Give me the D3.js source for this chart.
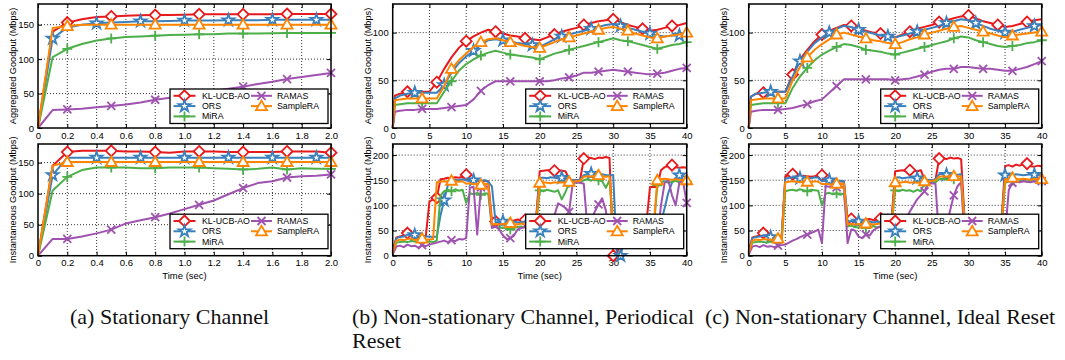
<!DOCTYPE html>
<html>
<head>
<meta charset="utf-8">
<script src="https://cdn.jsdelivr.net/npm/d3@7"></script>
<style>
  body { margin: 0; background: #fff; }
  svg { display: block; font-family: "Liberation Sans", Arial, sans-serif; }
</style>
</head>
<body>
<svg id="chart" width="1065" height="360"></svg>
<script>
// ---- series ----
const seriesNames = ["KL-UCB-AO", "ORS", "MiRA", "RAMAS", "SampleRA"];
const seriesColors = ["#e8191c", "#3a80bd", "#4daf4a", "#a052b0", "#ff8500"];
const seriesMarks = ["diamond", "star", "plus", "cross", "triangle"];

// ---- (a) stationary, time 0..2 s ----
const timeA = [0, 0.1, 0.2, 0.3, 0.4, 0.5, 0.6, 0.7, 0.8, 0.9, 1.0, 1.1, 1.2, 1.3, 1.4, 1.5, 1.6, 1.7, 1.8, 1.9, 2.0];
const aggA_kl   = [0, 140, 153, 158, 161, 162, 163, 163.5, 164, 164, 164.5, 165, 165, 165, 165, 165, 165, 165.5, 165.5, 165.5, 165.5];
const aggA_ors  = [0, 130, 146, 150, 152, 153, 154, 155, 155, 155.5, 156, 156, 156, 156.5, 156.5, 156.5, 157, 157, 157, 157, 157];
const aggA_mira = [0, 103, 115, 122, 127, 130, 132, 133, 134, 135, 135.5, 136, 136, 137, 137, 137, 137.5, 138, 138, 138, 138];
const aggA_ramas = [0, 26, 27, 28, 30, 32, 34, 37, 41, 44, 47, 51, 54, 57, 60, 64, 67, 71, 74, 77, 80];
const aggA_samp = [0, 145, 148, 150, 150, 150, 150, 150, 150, 150, 150, 150, 150, 150, 150, 150, 150, 150, 150, 150, 150];

const instA_kl   = [0, 145, 167, 169, 169, 169, 168, 168, 167, 166, 168, 168, 168, 167, 167, 167, 167, 168, 168, 168, 166];
const instA_ors  = [0, 130, 158, 158, 158, 158, 158, 158, 158, 158, 158, 158, 158, 158, 158, 158, 158, 158, 158, 158, 158];
const instA_mira = [0, 105, 127, 138, 142, 142, 142, 141, 141, 142, 142, 142, 141, 140, 139, 140, 142, 139, 141, 140, 140];
const instA_ramas = [0, 27, 27, 31, 36, 42, 52, 57, 62, 68, 75, 82, 89, 99, 109, 117, 120, 126, 128, 129, 131];
const instA_samp = [0, 145, 151, 151, 151, 151, 151, 151, 151, 151, 151, 151, 151, 151, 151, 151, 151, 151, 151, 151, 151];

// ---- (b),(c) aggregated, time 0..40 s ----
const timeAgg = [0, 0.3, 1, 2, 3, 4, 5, 6, 7, 8, 9, 10, 11, 12, 13, 14, 15, 16, 17, 18, 19, 20,
  21, 22, 23, 24, 25, 26, 27, 28, 29, 30, 31, 32, 33, 34, 35, 36, 37, 38, 39, 40];

const aggB_kl   = [0, 34, 36, 38, 38, 38, 38, 48, 62, 74, 84, 91, 96, 100, 103, 101, 99, 97, 96, 94, 93, 92,
  95, 98, 101, 103, 105, 108, 110, 112, 113, 114, 111, 108, 106, 104, 102, 103, 105, 107, 108, 110];
const aggB_ors  = [0, 31, 34, 36, 37, 37, 37, 37, 45, 58, 68, 75, 81, 87, 92, 93, 92, 91, 89, 88, 87, 85,
  89, 93, 96, 98, 100, 102, 104, 106, 108, 109, 107, 105, 103, 101, 99, 97, 96, 97, 97, 99];
const aggB_mira = [0, 24, 25, 26, 26, 26, 26, 26, 38, 49, 60, 67, 72, 76, 79, 81, 79, 77, 76, 75, 74, 72,
  75, 78, 80, 82, 84, 86, 88, 90, 92, 94, 92, 91, 89, 87, 85, 83, 85, 87, 88, 90];
const aggB_ramas = [0, 17, 18, 19, 19, 20, 20, 20, 21, 22, 23, 24, 30, 39, 45, 49, 49, 49, 49, 49, 49, 49,
  49, 50, 52, 53, 55, 58, 58, 59, 60, 61, 60, 59, 58, 57, 56, 57, 58, 60, 62, 63];
const aggB_samp = [0, 29, 30, 31, 31, 31, 31, 31, 44, 62, 71, 78, 85, 90, 93, 94, 92, 90, 88, 86, 85, 84,
  87, 90, 93, 95, 97, 99, 101, 103, 105, 106, 104, 102, 99, 97, 95, 94, 96, 97, 98, 100];

const aggC_kl   = [0, 33, 36, 37, 38, 38, 38, 56, 72, 82, 91, 98, 102, 105, 108, 107, 104, 102, 100, 99, 97, 95,
  98, 101, 104, 106, 108, 111, 113, 115, 117, 118, 115, 112, 110, 108, 106, 107, 109, 111, 113, 114];
const aggC_ors  = [0, 33, 36, 37, 38, 38, 38, 54, 70, 80, 89, 95, 100, 104, 107, 106, 103, 101, 99, 97, 96, 95,
  97, 99, 101, 103, 105, 107, 110, 112, 114, 113, 110, 107, 104, 102, 100, 101, 103, 105, 107, 108];
const aggC_mira = [0, 24, 25, 26, 26, 26, 26, 42, 54, 63, 71, 77, 81, 85, 88, 87, 85, 82, 81, 80, 78, 77,
  79, 81, 83, 85, 87, 89, 91, 94, 96, 95, 92, 90, 88, 86, 85, 86, 87, 89, 90, 92];
const aggC_ramas = [0, 17, 18, 19, 19, 19, 20, 21, 23, 25, 28, 30, 37, 44, 51, 51, 51, 51, 51, 51, 51, 50,
  51, 52, 54, 56, 59, 61, 62, 62, 64, 64, 63, 62, 62, 61, 60, 60, 62, 64, 67, 70];
const aggC_samp = [0, 29, 30, 31, 31, 31, 31, 50, 64, 74, 82, 88, 93, 98, 100, 98, 96, 94, 92, 91, 89, 88,
  90, 93, 95, 98, 100, 102, 104, 106, 107, 105, 103, 101, 99, 97, 95, 97, 98, 99, 100, 101];

// ---- (b),(c) instantaneous, sampled every 0.5 s ----
const timeInst = d3.range(0, 40.25, 0.5);

const instB_kl = [10, 36, 38, 40, 45, 42, 38, 37, 39, 38,
  108, 112, 115, 152, 153, 155, 154, 156, 155, 157,
  161, 150, 149, 150, 148, 149, 148, 70, 68, 69,
  70, 71, 69, 70, 72, 70, 71, 69, 70, 72,
  168, 169, 170, 170, 169, 170, 169, 168, 152, 150,
  150, 151, 193, 195, 194, 192, 195, 194, 196, 194,
  0, 0, 35, 62, 63, 61, 62, 63, 62, 61,
  136, 137, 136, 170, 176, 178, 180, 176, 175, 176, 175];
const instB_ors = [8, 35, 37, 38, 42, 40, 41, 38, 37, 38,
  38, 37, 38, 80, 110, 140, 150, 151, 150, 152,
  150, 148, 150, 149, 148, 150, 147, 138, 66, 67,
  68, 66, 67, 68, 66, 67, 68, 67, 66, 68,
  155, 155, 154, 156, 155, 154, 155, 153, 150, 150,
  150, 151, 160, 162, 163, 161, 160, 162, 160, 160,
  160, 0, 0, 30, 58, 60, 59, 60, 61, 60,
  60, 61, 62, 66, 95, 125, 145, 155, 160, 158, 157];
const instB_mira = [5, 26, 27, 28, 27, 29, 28, 27, 28, 27,
  28, 27, 30, 120, 128, 131, 128, 132, 129, 131,
  105, 124, 122, 125, 121, 124, 123, 58, 57, 55,
  56, 54, 52, 55, 57, 58, 56, 57, 59, 58,
  130, 128, 131, 129, 127, 130, 112, 126, 145, 144,
  146, 145, 150, 152, 149, 153, 150, 148, 135, 150,
  52, 50, 51, 52, 50, 51, 52, 50, 51, 52,
  51, 50, 140, 146, 148, 145, 147, 149, 146, 148, 147];
const instB_ramas = [3, 18, 20, 17, 22, 19, 20, 16, 21, 19,
  22, 24, 26, 28, 30, 27, 31, 29, 33, 32,
  35, 135, 137, 42, 136, 138, 137, 55, 58, 52,
  40, 33, 35, 40, 52, 55, 57, 56, 58, 57,
  45, 48, 50, 54, 80, 104, 100, 95, 87, 145,
  146, 145, 143, 55, 68, 88, 102, 114, 90, 35,
  34, 36, 35, 34, 36, 35, 34, 36, 35, 34,
  35, 36, 35, 100, 145, 150, 120, 100, 145, 148, 105];
const instB_samp = [6, 30, 32, 31, 33, 34, 31, 33, 34, 32,
  32, 33, 146, 147, 148, 147, 149, 148, 147, 148,
  143, 144, 142, 143, 141, 143, 142, 62, 63, 62,
  63, 64, 65, 63, 62, 64, 63, 62, 64, 63,
  145, 146, 145, 144, 146, 145, 146, 145, 147, 147,
  148, 149, 157, 158, 157, 159, 160, 158, 157, 158,
  58, 57, 58, 56, 57, 58, 57, 56, 58, 57,
  57, 56, 150, 152, 153, 152, 151, 152, 151, 150, 150];

const instC_kl = [8, 36, 38, 40, 45, 41, 38, 39, 38, 39,
  158, 160, 162, 158, 157, 159, 158, 157, 158, 159,
  160, 148, 149, 148, 147, 148, 147, 72, 73, 70,
  71, 70, 72, 73, 71, 70, 74, 72, 73, 71,
  168, 169, 170, 168, 170, 169, 168, 170, 151, 150,
  150, 151, 193, 194, 192, 195, 193, 194, 192, 66,
  65, 66, 64, 65, 66, 65, 64, 66, 65, 64,
  178, 180, 177, 181, 179, 182, 183, 178, 177, 179, 178];
const instC_ors = [6, 35, 37, 38, 40, 39, 37, 38, 37, 38,
  153, 155, 156, 155, 154, 156, 155, 154, 156, 155,
  148, 149, 150, 148, 147, 149, 148, 68, 69, 67,
  68, 67, 69, 68, 66, 68, 67, 69, 68, 67,
  155, 156, 154, 155, 156, 155, 154, 155, 150, 151,
  150, 152, 162, 163, 161, 162, 160, 161, 162, 62,
  61, 62, 60, 61, 62, 61, 60, 62, 61, 60,
  160, 161, 160, 162, 161, 160, 161, 162, 161, 160, 161];
const instC_mira = [4, 26, 27, 28, 27, 26, 28, 27, 26, 27,
  128, 130, 131, 129, 132, 130, 128, 131, 130, 129,
  100, 123, 125, 122, 124, 121, 124, 58, 60, 57,
  56, 58, 55, 57, 59, 56, 58, 57, 55, 58,
  130, 128, 131, 129, 130, 127, 131, 128, 146, 145,
  147, 146, 152, 153, 151, 154, 152, 153, 151, 52,
  53, 51, 52, 54, 52, 53, 51, 52, 53, 52,
  145, 147, 149, 146, 148, 150, 147, 149, 148, 146, 148];
const instC_ramas = [2, 18, 20, 17, 21, 18, 19, 17, 20, 21,
  22, 26, 30, 33, 37, 40, 42, 45, 48, 52,
  25, 138, 137, 139, 136, 138, 137, 25, 52, 50,
  38, 35, 42, 40, 50, 55, 58, 57, 60, 58,
  20, 35, 55, 72, 88, 100, 112, 120, 128, 143,
  144, 143, 30, 40, 60, 90, 120, 138, 146, 30,
  32, 35, 34, 36, 38, 37, 35, 36, 38, 37,
  40, 130, 145, 147, 146, 148, 147, 146, 148, 147, 148];
const instC_samp = [5, 30, 32, 31, 33, 32, 31, 32, 34, 33,
  146, 147, 148, 147, 146, 148, 147, 146, 148, 147,
  142, 143, 142, 141, 143, 142, 143, 62, 63, 62,
  63, 62, 64, 63, 62, 63, 64, 63, 62, 63,
  146, 145, 146, 147, 145, 146, 145, 146, 148, 148,
  149, 150, 157, 158, 157, 159, 158, 157, 158, 58,
  57, 58, 56, 57, 58, 57, 56, 58, 57, 56,
  152, 153, 155, 153, 152, 153, 152, 151, 153, 152, 152];

// ---- marker positions (x values where a symbol is drawn) ----
const marksA = [
  [0.2, 0.5, 0.8, 1.1, 1.4, 1.7, 2.0],
  [0.1, 0.4, 0.7, 1.0, 1.3, 1.6, 1.9],
  [0.2, 0.5, 0.8, 1.1, 1.4, 1.7, 2.0],
  [0.2, 0.5, 0.8, 1.1, 1.4, 1.7, 2.0],
  [0.2, 0.5, 0.8, 1.1, 1.4, 1.7, 2.0]
];
const marksBC = [
  [2, 6, 10, 14, 18, 22, 26, 30, 34, 38],
  [3, 7, 11, 15, 19, 23, 27, 31, 35, 39],
  [4, 8, 12, 16, 20, 24, 28, 32, 36, 40],
  [4, 8, 12, 16, 20, 24, 28, 32, 36, 40],
  [4, 8, 12, 16, 20, 24, 28, 32, 36, 40]
];

// ---- ticks and labels ----
const xTicksA = [0, 0.2, 0.4, 0.6, 0.8, 1.0, 1.2, 1.4, 1.6, 1.8, 2.0];
const xTicksBC = [0, 5, 10, 15, 20, 25, 30, 35, 40];
const yTicks150 = [0, 50, 100, 150];
const yTicks100 = [0, 50, 100];
const yTicks200 = [0, 50, 100, 150, 200];
const captions = [
  ["(a)  Stationary Channel"],
  ["(b)  Non-stationary Channel, Periodical", "Reset"],
  ["(c)  Non-stationary Channel, Ideal Reset"]
];

const svg = d3.select("#chart");

const panels = [
  { left: 38, top: 4, w: 293, h: 124, xd: [0, 2], yd: [0, 180], xt: xTicksA, yt: yTicks150,
    fmt: d => d === 0 ? "0" : d3.format(".1f")(d), time: timeA, marks: marksA,
    data: [aggA_kl, aggA_ors, aggA_mira, aggA_ramas, aggA_samp],
    ytitle: "Aggregated Goodput (Mbps)", titleX: 13 },
  { left: 38, top: 144, w: 293, h: 111.7, xd: [0, 2], yd: [0, 180], xt: xTicksA, yt: yTicks150,
    fmt: d => d === 0 ? "0" : d3.format(".1f")(d), time: timeA, marks: marksA,
    data: [instA_kl, instA_ors, instA_mira, instA_ramas, instA_samp],
    ytitle: "Instantaneous Goodput (Mbps)", titleX: 13, xtitle: "Time (sec)" },
  { left: 392.7, top: 4, w: 294, h: 124, xd: [0, 40], yd: [0, 130], xt: xTicksBC, yt: yTicks100,
    fmt: d3.format("d"), time: timeAgg, marks: marksBC,
    data: [aggB_kl, aggB_ors, aggB_mira, aggB_ramas, aggB_samp],
    ytitle: "Aggregated Goodput (Mbps)", titleX: 368 },
  { left: 392.7, top: 144, w: 294, h: 111.7, xd: [0, 40], yd: [0, 222], xt: xTicksBC, yt: yTicks200,
    fmt: d3.format("d"), time: timeInst, marks: marksBC,
    data: [instB_kl, instB_ors, instB_mira, instB_ramas, instB_samp],
    ytitle: "Instantaneous Goodput (Mbps)", titleX: 368, xtitle: "Time (sec)" },
  { left: 748.7, top: 4, w: 293, h: 124, xd: [0, 40], yd: [0, 130], xt: xTicksBC, yt: yTicks100,
    fmt: d3.format("d"), time: timeAgg, marks: marksBC,
    data: [aggC_kl, aggC_ors, aggC_mira, aggC_ramas, aggC_samp],
    ytitle: "Aggregated Goodput (Mbps)", titleX: 724 },
  { left: 748.7, top: 144, w: 293, h: 111.7, xd: [0, 40], yd: [0, 222], xt: xTicksBC, yt: yTicks200,
    fmt: d3.format("d"), time: timeInst, marks: marksBC,
    data: [instC_kl, instC_ors, instC_mira, instC_ramas, instC_samp],
    ytitle: "Instantaneous Goodput (Mbps)", titleX: 724, xtitle: "Time (sec)" }
];

function drawMark(g, kind, color, cx, cy) {
  const t = `translate(${cx},${cy})`;
  if (kind === "diamond") {
    g.append("path").attr("transform", t).attr("d", "M0,-5.5L5.5,0L0,5.5L-5.5,0Z")
      .attr("fill", "#fff").attr("stroke", color).attr("stroke-width", 1.8);
  } else if (kind === "star") {
    g.append("path").attr("transform", t).attr("d", d3.symbol(d3.symbolStar, 42)())
      .attr("fill", "#fff").attr("stroke", color).attr("stroke-width", 1.8);
  } else if (kind === "plus") {
    g.append("path").attr("transform", t).attr("d", "M-5,0H5M0,-5V5")
      .attr("stroke", color).attr("stroke-width", 1.8);
  } else if (kind === "cross") {
    g.append("path").attr("transform", t).attr("d", "M-4,-4L4,4M-4,4L4,-4")
      .attr("stroke", color).attr("stroke-width", 1.8);
  } else {
    g.append("path").attr("transform", t).attr("d", "M0,-5.5L5.5,4L-5.5,4Z")
      .attr("fill", "#fff").attr("stroke", color).attr("stroke-width", 1.8);
  }
}

function drawPanel(p) {
  const g = svg.append("g");
  const x = d3.scaleLinear().domain(p.xd).range([p.left, p.left + p.w]);
  const y = d3.scaleLinear().domain(p.yd).range([p.top + p.h, p.top]);

  // dotted grid
  g.append("g").selectAll("line").data(p.xt.slice(1, -1)).join("line")
    .attr("x1", d => x(d)).attr("x2", d => x(d))
    .attr("y1", p.top).attr("y2", p.top + p.h)
    .attr("stroke", "#000").attr("stroke-width", 0.8).attr("stroke-dasharray", "1,2");
  g.append("g").selectAll("line").data(p.yt.slice(1)).join("line")
    .attr("x1", p.left).attr("x2", p.left + p.w)
    .attr("y1", d => y(d)).attr("y2", d => y(d))
    .attr("stroke", "#000").attr("stroke-width", 0.8).attr("stroke-dasharray", "1,2");

  // axes (ticks pointing inward, mirrored)
  const styleAxis = a => {
    a.select(".domain").remove();
    a.selectAll(".tick line").attr("stroke", "#000").attr("stroke-width", 1);
    a.selectAll("text").attr("font-size", 9.5).attr("fill", "#000")
      .attr("font-family", "'Liberation Sans', Arial, sans-serif");
  };
  g.append("g").attr("transform", `translate(0,${p.top + p.h})`)
    .call(d3.axisBottom(x).tickValues(p.xt).tickFormat(p.fmt).tickSizeInner(-4).tickSizeOuter(0).tickPadding(4))
    .call(styleAxis);
  g.append("g").attr("transform", `translate(0,${p.top})`)
    .call(d3.axisTop(x).tickValues(p.xt).tickFormat("").tickSizeInner(-4).tickSizeOuter(0))
    .call(styleAxis);
  g.append("g").attr("transform", `translate(${p.left},0)`)
    .call(d3.axisLeft(y).tickValues(p.yt).tickFormat(d3.format("d")).tickSizeInner(-4).tickSizeOuter(0).tickPadding(4))
    .call(styleAxis);
  g.append("g").attr("transform", `translate(${p.left + p.w},0)`)
    .call(d3.axisRight(y).tickValues(p.yt).tickFormat("").tickSizeInner(-4).tickSizeOuter(0))
    .call(styleAxis);

  // series lines + markers
  const line = d3.line().x(d => x(d[0])).y(d => y(d[1]));
  p.data.forEach((vals, i) => {
    const pts = p.time.map((t, k) => [t, vals[k]]);
    g.append("path").datum(pts).attr("d", line)
      .attr("fill", "none").attr("stroke", seriesColors[i]).attr("stroke-width", 2)
      .attr("stroke-linejoin", "round");
    const mg = g.append("g");
    p.marks[i].forEach(mt => {
      const k = p.time.findIndex(t => Math.abs(t - mt) < 1e-6);
      if (k >= 0) drawMark(mg, seriesMarks[i], seriesColors[i], x(mt), y(vals[k]));
    });
  });

  // frame
  g.append("rect").attr("x", p.left).attr("y", p.top).attr("width", p.w).attr("height", p.h)
    .attr("fill", "none").attr("stroke", "#000").attr("stroke-width", 1.5);

  // legend
  const lw = 158, lh = 34.5;
  const bx = p.left + p.w - 3 - lw, by = p.top + p.h - (p.xtitle ? 7 : 4.5) - lh;
  const lg = g.append("g");
  lg.append("rect").attr("x", bx).attr("y", by).attr("width", lw).attr("height", lh)
    .attr("fill", "#fff").attr("stroke", "#000").attr("stroke-width", 1.3);
  const slots = [[0, 0], [0, 1], [0, 2], [1, 0], [1, 1]];
  seriesNames.forEach((name, i) => {
    const [col, row] = slots[i];
    const ly = by + 6.8 + row * 10.3;
    const x1 = bx + (col ? 81 : 3.5), x2 = bx + (col ? 102 : 25.5);
    lg.append("line").attr("x1", x1).attr("x2", x2).attr("y1", ly).attr("y2", ly)
      .attr("stroke", seriesColors[i]).attr("stroke-width", 2);
    drawMark(lg, seriesMarks[i], seriesColors[i], (x1 + x2) / 2, ly);
    lg.append("text").attr("x", bx + (col ? 107 : 32)).attr("y", ly).attr("dy", "0.35em")
      .attr("font-size", 8.8).text(name);
  });

  // axis titles
  svg.append("text")
    .attr("transform", `translate(${p.titleX},${p.top + p.h / 2}) rotate(-90)`)
    .attr("text-anchor", "middle").attr("dy", "0.35em").attr("font-size", 9.2)
    .text(p.ytitle);
  if (p.xtitle) {
    svg.append("text").attr("x", p.left + p.w / 2).attr("y", p.top + p.h + 23.5)
      .attr("text-anchor", "middle").attr("font-size", 9.5).text(p.xtitle);
  }
}

panels.forEach(drawPanel);

// sub-figure captions
const capX = [70, 352, 705];
captions.forEach((lines, i) => {
  lines.forEach((s, j) => {
    svg.append("text").attr("x", capX[i]).attr("y", 324 + j * 24)
      .attr("font-family", "'Liberation Serif', 'Times New Roman', serif")
      .attr("font-size", 22).attr("fill", "#111").text(s);
  });
});
</script>
</body>
</html>
